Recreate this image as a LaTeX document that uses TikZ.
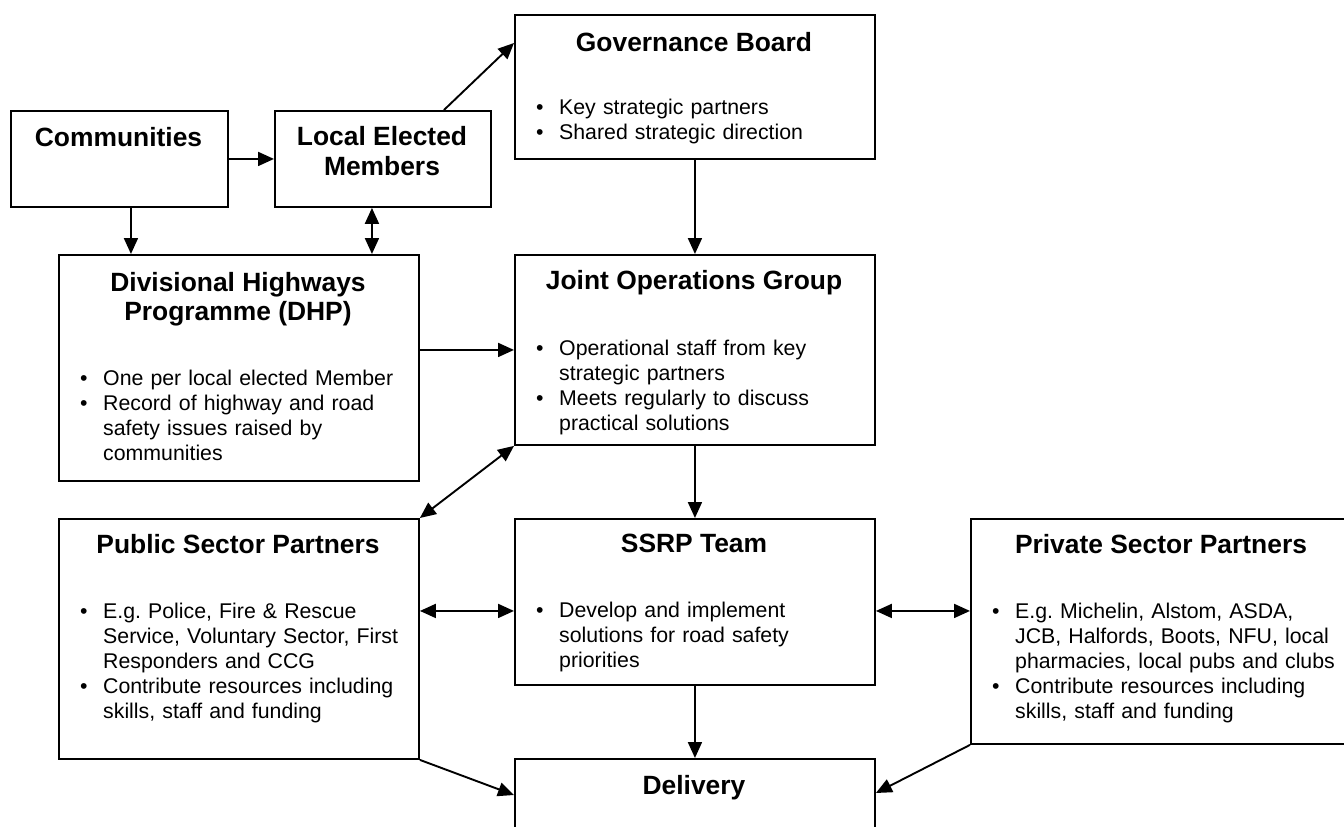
\documentclass[tikz,border=0pt]{standalone}
\usepackage{fontspec}
\setmainfont{Liberation Sans}
\usetikzlibrary{arrows.meta}
\newcommand{\myitem}[1]{\hangindent=23pt\hangafter=1\noindent\makebox[23pt][l]{\textbullet}#1\par}
\begin{document}
\begin{tikzpicture}[x=1pt,y=-1pt,
  box/.style={draw, line width=1.9pt, inner sep=0pt, anchor=north west},
  title/.style={font=\fontsize{26.4}{29.5}\selectfont\bfseries, inner sep=0pt, anchor=base},
  titletwo/.style={font=\fontsize{26.4}{29.5}\selectfont\bfseries, inner sep=0pt, align=center, anchor=center},
  body/.style={font=\fontsize{21.3}{25}\selectfont\frenchspacing, text width=420pt, align=left, inner sep=0pt, anchor=base west},
  arr/.style={-{Triangle[length=16pt,width=14pt]}, line width=1.9pt},
  arrtwo/.style={{Triangle[length=16pt,width=14pt]}-{Triangle[length=16pt,width=14pt]}, line width=1.9pt}]
\useasboundingbox (0,0) rectangle (1344,827);
\clip (0,0) rectangle (1344,827);
% boxes
\node[box, minimum width=217pt, minimum height=96pt] (comm) at (10,110) {};
\node[box, minimum width=216pt, minimum height=96pt] (lem) at (274,110) {};
\node[box, minimum width=360pt, minimum height=144pt] (gov) at (514,14) {};
\node[box, minimum width=360pt, minimum height=226pt] (dhp) at (58,254) {};
\node[box, minimum width=360pt, minimum height=190pt] (jog) at (514,254) {};
\node[box, minimum width=360pt, minimum height=240pt] (pub) at (58,518) {};
\node[box, minimum width=360pt, minimum height=166pt] (ssrp) at (514,518) {};
\node[box, minimum width=382pt, minimum height=225pt] (priv) at (970,518) {};
\node[box, minimum width=360pt, minimum height=90pt] (deliv) at (514,758) {};
% titles
\node[title] (tcomm) at (118.5,146) {Communities};
\node[titletwo] (tlem) at (382,151) {Local Elected\\Members};
\node[title] (tgov) at (694,51) {Governance Board};
\node[titletwo] (tdhp) at (238,299) {Divisional Highways\\Programme (DHP)};
\node[title] (tjog) at (694,289) {Joint Operations Group};
\node[title] (tpub) at (238,553) {Public Sector Partners};
\node[title] (tssrp) at (694,552) {SSRP Team};
\node[title] (tpriv) at (1161,553) {Private Sector Partners};
\node[title] (tdel) at (694,794) {Delivery};
% bullets
\node[body] (bgov) at (536,114.5) {\myitem{Key strategic partners}\myitem{Shared strategic direction}};
\node[body] (bdhp) at (80,385.5) {\myitem{One per local elected Member}\myitem{Record of highway and road\newline safety issues raised by\newline communities}};
\node[body] (bjog) at (536,355.5) {\myitem{Operational staff from key\newline strategic partners}\myitem{Meets regularly to discuss\newline practical solutions}};
\node[body] (bssrp) at (536,617.5) {\myitem{Develop and implement\newline solutions for road safety\newline priorities}};
\node[body] (bpub) at (80,618.5) {\myitem{E.g. Police, Fire \& Rescue\newline Service, Voluntary Sector, First\newline Responders and CCG}\myitem{Contribute resources including\newline skills, staff and funding}};
\node[body] (bpriv) at (992,618.5) {\myitem{E.g. Michelin, Alstom, ASDA,\newline JCB, Halfords, Boots, NFU, local\newline pharmacies, local pubs and clubs}\myitem{Contribute resources including\newline skills, staff and funding}};
% connectors
\draw[arr] (comm.east) -- (lem.west);
\coordinate (c1) at ([xshift=11.5pt]comm.south);
\draw[arr] (c1) -- (c1 |- dhp.north);
\coordinate (c2) at ([xshift=-11pt]lem.south);
\draw[arrtwo] (c2) -- (c2 |- dhp.north);
\draw[arr] ([xshift=61pt]lem.north) -- ([yshift=-29pt]gov.north west);
\draw[arr] (gov.south) -- (gov.south |- jog.north);
\draw[arr] (jog.west -| dhp.east) -- (jog.west);
\draw[arrtwo] (pub.north east) -- (jog.south west);
\draw[arr] (jog.south) -- (jog.south |- ssrp.north);
\coordinate (c3) at ([yshift=-9pt]ssrp.west);
\draw[arrtwo] (c3 -| pub.east) -- (c3);
\coordinate (c4) at ([yshift=-9pt]ssrp.east);
\draw[arrtwo] (c4) -- (c4 -| priv.west);
\draw[arr] (ssrp.south) -- (ssrp.south |- deliv.north);
\draw[arr] (pub.south east) -- ([yshift=-37pt]deliv.north west);
\draw[arr] (priv.south west) -- ([yshift=-35pt]deliv.north east);
\end{tikzpicture}
\end{document}
